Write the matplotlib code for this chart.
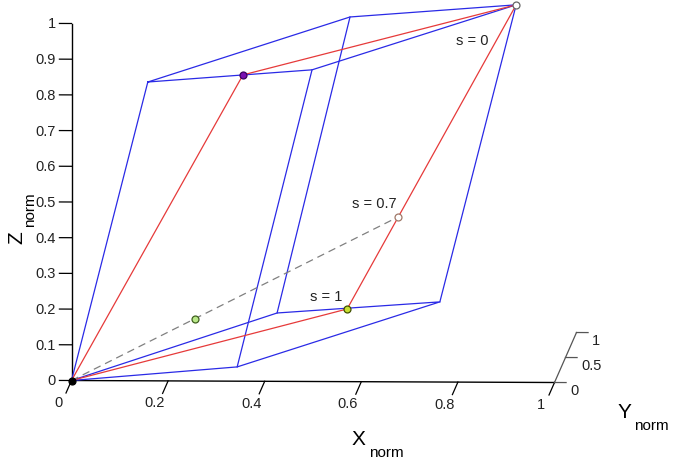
import matplotlib
matplotlib.use("Agg")
import matplotlib.pyplot as plt
import numpy as np

plt.rcParams['font.family'] = ['Liberation Sans', 'DejaVu Sans']

# corners of the normalised region (x, y, z); bottom face then top face
bottom_x = [0.0, 0.343, 0.744, 0.407]
bottom_y = [0.0, 0.0, 0.41, 0.41]
bottom_z = [0.0, 0.040, 0.167, 0.134]
top_x = [0.158, 0.498, 0.902, 0.558]
top_y = [0.0, 0.0, 0.41, 0.41]
top_z = [0.837, 0.873, 1.0, 0.964]

# marked points (x, y, z)
origin = (0.0, 0.0, 0.0)
pt_s0 = (0.902, 0.41, 1.0)
pt_s07 = (0.657, 0.41, 0.404)
pt_s1 = (0.552, 0.41, 0.146)
pt_top = (0.355, 0.0, 0.858)
pt_mid = (0.248, 0.155, 0.152)

x_ticks = [0, 0.2, 0.4, 0.6, 0.8, 1]
y_ticks = [0, 0.5, 1]
z_ticks = [0, 0.1, 0.2, 0.3, 0.4, 0.5, 0.6, 0.7, 0.8, 0.9, 1]


def proj(x, y, z):
    # fixed oblique view, z up, y going back to the right
    x, y, z = np.asarray(x, float), np.asarray(y, float), np.asarray(z, float)
    return x + 0.0455 * y, z - 0.0056 * x + 0.140 * y


def line3(ax, pts, **kw):
    xs, ys, zs = zip(*pts)
    u, v = proj(xs, ys, zs)
    ax.plot(u, v, **kw)


fig = plt.figure(figsize=(6.9, 4.64), dpi=100)
ax = fig.add_axes([0, 0, 1, 1])
ax.set_xlim(-71.5 / 483, (690 - 71.5) / 483)
ax.set_ylim(-82.5 / 357, 381.5 / 357)
ax.axis('off')

# axes
line3(ax, [(0, 0, 0), (1, 0, 0)], color='black', lw=1.0)
line3(ax, [(0, 0, 0), (0, 0, 1)], color='black', lw=1.0)
line3(ax, [(1, 0, 0), (1, 1, 0)], color='#555555', lw=0.9)
for t in z_ticks:
    line3(ax, [(0, 0, t), (-0.025, 0, t)], color='black', lw=0.9)
    u, v = proj(-0.032, 0, t)
    ax.text(u, v, f'{t:g}', ha='right', va='center', fontsize=10.5, color='#222222')
for t in x_ticks:
    line3(ax, [(t, 0, 0), (t, -0.25, 0)], color='black', lw=0.9)
    u, v = proj(t - 0.008, -0.43, 0)
    ax.text(u, v, f'{t:g}', ha='center', va='center', fontsize=10.5, color='#222222')
for t in y_ticks:
    line3(ax, [(1, t, 0), (1.024, t, 0)], color='#555555', lw=0.9)
    u, v = proj(1.032, t, -0.022)
    ax.text(u, v, f'{t:g}', ha='left', va='center', fontsize=10.5, color='#222222')

# region edges
bottom = list(zip(bottom_x, bottom_y, bottom_z))
top = list(zip(top_x, top_y, top_z))
edge_kw = dict(color='#2a2ae6', lw=0.9)
line3(ax, bottom + [bottom[0]], **edge_kw)
line3(ax, top + [top[0]], **edge_kw)
for b, t in zip(bottom, top):
    line3(ax, [b, t], **edge_kw)

# paths and the dashed chord
red_kw = dict(color='#e63a3a', lw=0.9)
line3(ax, [origin, pt_top, pt_s0], **red_kw)
line3(ax, [origin, pt_s1, pt_s0], **red_kw)
line3(ax, [origin, pt_s07], color='#808080', lw=0.9, ls=(0, (6, 4)))

# markers
markers = [
    (origin, 'black', 'black'),
    (pt_top, '#7a10b0', '#3a0060'),
    (pt_s1, '#c8e030', '#405000'),
    (pt_mid, '#b8e888', '#406020'),
    (pt_s0, 'white', '#666666'),
    (pt_s07, 'white', '#a07868'),
]
for p, fc, ec in markers:
    u, v = proj(*p)
    ax.plot(u, v, 'o', ms=5, mfc=fc, mec=ec, mew=0.9)

labels = [(pt_s0, 's = 0', (-44, -35)), (pt_s07, 's = 0.7', (-24, 14)), (pt_s1, 's = 1', (-21, 13))]
for p, s, off in labels:
    ax.annotate(s, xy=proj(*p), xytext=off, textcoords='offset pixels',
                ha='center', va='center', fontsize=10.5, color='#222222')

# axis titles
fig.text(358 / 690, 1 - 440 / 464, 'X', fontsize=15, ha='center', va='center')
fig.text(386 / 690, 1 - 453 / 464, 'norm', fontsize=11, ha='center', va='center')
fig.text(624 / 690, 1 - 413 / 464, 'Y', fontsize=15, ha='center', va='center')
fig.text(651 / 690, 1 - 426 / 464, 'norm', fontsize=11, ha='center', va='center')
fig.text(17 / 690, 1 - 238 / 464, 'Z', fontsize=15, ha='center', va='center', rotation=90)
fig.text(30 / 690, 1 - 210 / 464, 'norm', fontsize=11, ha='center', va='center', rotation=90)

fig.savefig('out.png', dpi=100)
